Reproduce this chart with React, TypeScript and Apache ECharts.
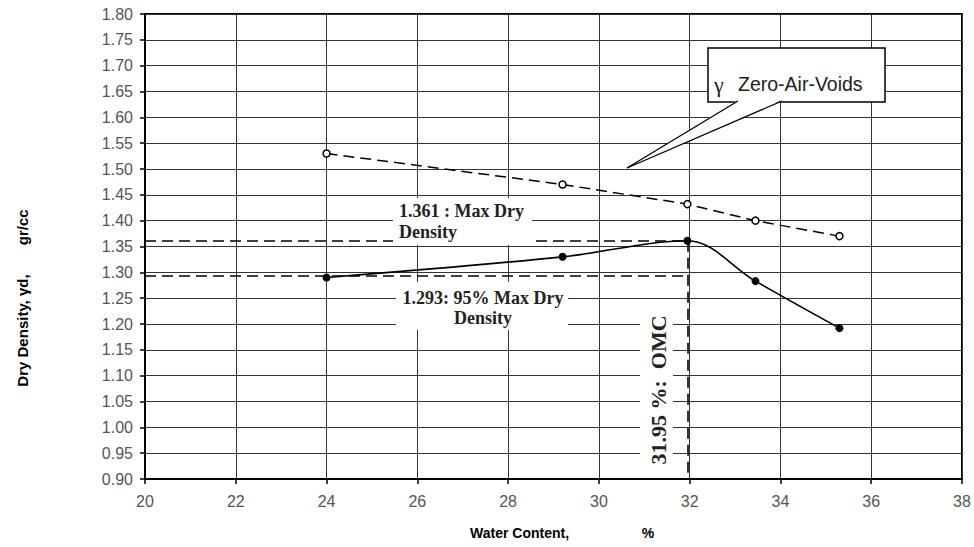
import React, { useEffect, useRef } from "react";
import * as echarts from "echarts";

// Compaction test data (water content %, dry density gr/cc)
const waterContent = [24, 29.2, 31.95, 33.45, 35.3];
const dryDensity = [1.29, 1.33, 1.361, 1.283, 1.192];

// Zero-air-voids curve
const zavWater = [24, 29.2, 31.95, 33.45, 35.3];
const zavDensity = [1.53, 1.47, 1.432, 1.4, 1.37];

// Key results
const maxDryDensity = 1.361;
const ninetyFiveDensity = 1.293;
const omc = 31.95;

// Axis ranges
const xMin = 20;
const xMax = 38;
const xStep = 2;
const yMin = 0.9;
const yMax = 1.8;
const yStep = 0.05;

// Texts
const xTitleA = "Water Content,";
const xTitleB = "%";
const yTitle = "Dry Density, γd,       gr/cc";
const maxLabel = "1.361 : Max Dry\nDensity";
const ninetyLabel = "1.293: 95% Max Dry\nDensity";
const omcLabel = "31.95 %:  OMC";
const zavGamma = "γ";
const zavLabel = "Zero-Air-Voids";

const SERIF = '"Liberation Serif", "Times New Roman", serif';
const SANS = '"Liberation Sans", Arial, sans-serif';

export default function App() {
  const ref = useRef<HTMLDivElement>(null);
  useEffect(() => {
    const chart = echarts.init(ref.current!, null, { renderer: "svg" });
    const dash = [11, 6];
    chart.setOption({
      animation: false,
      backgroundColor: "#fff",
      grid: {
        left: 145,
        top: 14,
        right: 12,
        bottom: 68,
        show: true,
        borderColor: "#000",
        borderWidth: 2,
      },
      xAxis: {
        type: "value",
        min: xMin,
        max: xMax,
        interval: xStep,
        axisLine: { show: true, lineStyle: { color: "#000", width: 2 } },
        axisTick: { show: true, length: 5, inside: false, lineStyle: { color: "#000", width: 1.5 } },
        axisLabel: { color: "#555", fontSize: 16, fontFamily: SANS, margin: 14 },
        splitLine: { show: true, lineStyle: { color: "#333", width: 1 } },
      },
      yAxis: {
        type: "value",
        min: yMin,
        max: yMax,
        interval: yStep,
        axisLine: { show: true, lineStyle: { color: "#000", width: 2 } },
        axisTick: { show: true, length: 5, inside: false, lineStyle: { color: "#000", width: 1.5 } },
        axisLabel: {
          color: "#555",
          fontSize: 16,
          fontFamily: SANS,
          margin: 12,
          formatter: (v: number) => v.toFixed(2),
        },
        splitLine: { show: true, lineStyle: { color: "#333", width: 1 } },
      },
      series: [
        {
          name: "Zero-Air-Voids",
          type: "line",
          data: zavWater.map((x, i) => [x, zavDensity[i]]),
          symbol: "circle",
          symbolSize: 7,
          itemStyle: { color: "#fff", borderColor: "#000", borderWidth: 1.5 },
          lineStyle: { color: "#000", width: 1.5, type: dash },
          z: 3,
        },
        {
          name: "Compaction",
          type: "line",
          data: waterContent.map((x, i) => [x, dryDensity[i]]),
          smooth: 0.35,
          symbol: "circle",
          symbolSize: 8,
          itemStyle: { color: "#000", borderColor: "#000", borderWidth: 0 },
          lineStyle: { color: "#000", width: 1.6 },
          z: 4,
          markLine: {
            silent: true,
            symbol: ["none", "none"],
            label: { show: false },
            lineStyle: { color: "#000", width: 1.6, type: dash },
            data: [
              [{ coord: [xMin, maxDryDensity] }, { coord: [omc, maxDryDensity] }],
              [{ coord: [xMin, ninetyFiveDensity] }, { coord: [omc, ninetyFiveDensity] }],
              [{ coord: [omc, maxDryDensity] }, { coord: [omc, yMin] }],
            ],
          },
        },
      ],
      graphic: [
        // Max dry density box
        { type: "rect", z: 100, shape: { x: 393, y: 198, width: 139, height: 47 }, style: { fill: "#fff" } },
        {
          type: "text", z: 101, x: 399, y: 200.5,
          style: { text: maxLabel, font: `bold 18px ${SERIF}`, fill: "#222", textAlign: "left", align: "left", textVerticalAlign: "top", verticalAlign: "top", lineHeight: 21 },
        },
        // 95% box
        { type: "rect", z: 100, shape: { x: 396, y: 282, width: 172, height: 48 }, style: { fill: "#fff" } },
        {
          type: "text", z: 101, x: 483, y: 288,
          style: { text: ninetyLabel, font: `bold 18px ${SERIF}`, fill: "#222", textAlign: "center", align: "center", textVerticalAlign: "top", verticalAlign: "top", lineHeight: 20 },
        },
        // OMC box
        { type: "rect", z: 100, shape: { x: 640, y: 306, width: 33, height: 166 }, style: { fill: "#fff" } },
        {
          type: "text", z: 101, x: 658, y: 390, rotation: Math.PI / 2,
          style: { text: omcLabel, font: `bold 22px ${SERIF}`, fill: "#222", textAlign: "center", align: "center", textVerticalAlign: "middle", verticalAlign: "middle" },
        },
        // Zero-air-voids callout
        { type: "rect", z: 100, shape: { x: 708, y: 48, width: 177, height: 54 }, style: { fill: "#fff", stroke: "#000", lineWidth: 1.5 } },
        { type: "polygon", z: 101, shape: { points: [[738, 100], [782, 100], [627, 168]] }, style: { fill: "#fff" } },
        { type: "line", z: 102, shape: { x1: 738, y1: 101, x2: 627, y2: 168 }, style: { stroke: "#000", lineWidth: 1.3 } },
        { type: "line", z: 102, shape: { x1: 782, y1: 101, x2: 627, y2: 168 }, style: { stroke: "#000", lineWidth: 1.3 } },
        {
          type: "text", z: 103, x: 714, y: 84,
          style: { text: zavGamma, font: `22px ${SERIF}`, fill: "#222", textAlign: "left", align: "left", textVerticalAlign: "middle", verticalAlign: "middle" },
        },
        {
          type: "text", z: 103, x: 738, y: 84,
          style: { text: zavLabel, font: `19.5px ${SANS}`, fill: "#222", textAlign: "left", align: "left", textVerticalAlign: "middle", verticalAlign: "middle" },
        },
        // Axis titles
        {
          type: "text", z: 101, x: 22, y: 298, rotation: Math.PI / 2,
          style: { text: yTitle, font: `bold 15px ${SANS}`, fill: "#000", textAlign: "center", align: "center", textVerticalAlign: "middle", verticalAlign: "middle" },
        },
        {
          type: "text", z: 101, x: 470, y: 533,
          style: { text: xTitleA, font: `bold 14px ${SANS}`, fill: "#000", textAlign: "left", align: "left", textVerticalAlign: "middle", verticalAlign: "middle" },
        },
        {
          type: "text", z: 101, x: 648, y: 533,
          style: { text: xTitleB, font: `bold 14px ${SANS}`, fill: "#000", textAlign: "center", align: "center", textVerticalAlign: "middle", verticalAlign: "middle" },
        },
      ],
    });
    return () => chart.dispose();
  }, []);
  return (
    <div
      ref={ref}
      style={{ position: "absolute", left: 0, top: 0, width: 974, height: 547, background: "#fff" }}
    />
  );
}
